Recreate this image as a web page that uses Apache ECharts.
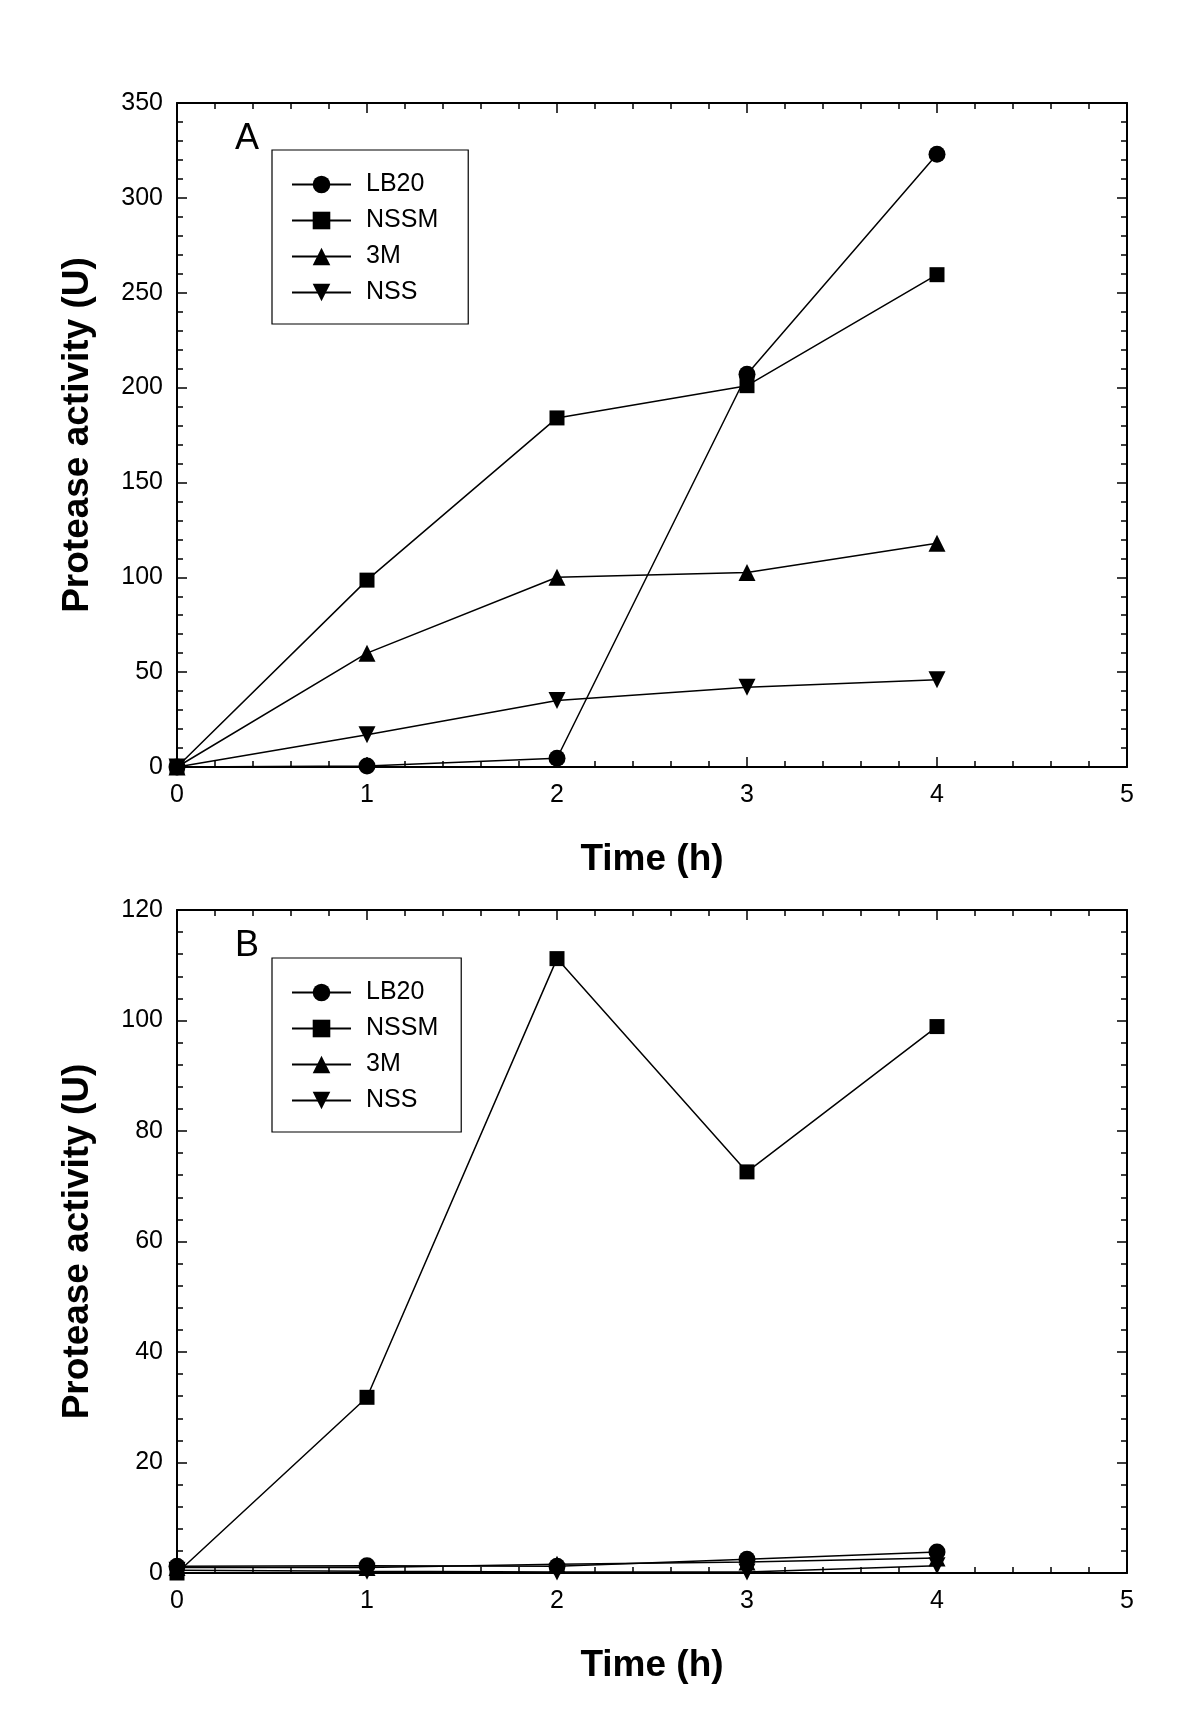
<!DOCTYPE html>
<html><head><meta charset="utf-8">
<script src="https://cdn.jsdelivr.net/npm/echarts@6/dist/echarts.min.js"></script>
<style>html,body{margin:0;padding:0;background:#fff}#c{width:1200px;height:1715px}</style>
</head><body><div id="c"></div>
<script>
const times = [0, 1, 2, 3, 4];
const seriesNames = ['LB20', 'NSSM', '3M', 'NSS'];
// Panel A
const a_LB20 = [0, 0.5, 4.6, 207, 323];
const a_NSSM = [0, 98.5, 184, 201, 259.5];
const a_3M = [0, 60, 100, 102.5, 118];
const a_NSS = [0, 17, 35, 42, 46];
// Panel B
const b_LB20 = [1.2, 1.3, 1.2, 2.5, 3.8];
const b_NSSM = [0, 31.8, 111.2, 72.6, 98.9];
const b_3M = [1.0, 1.0, 1.6, 2.0, 2.7];
const b_NSS = [0.5, 0.3, 0.2, 0.2, 1.3];
const xTicks = [0, 1, 2, 3, 4, 5];
const yTicksA = [0, 50, 100, 150, 200, 250, 300, 350];
const yTicksB = [0, 20, 40, 60, 80, 100, 120];

const FONT = '"Liberation Sans", Arial, sans-serif';
const symbols = {
  'LB20': {symbol: 'circle', symbolSize: 17, symbolRotate: 0},
  'NSSM': {symbol: 'rect', symbolSize: 15, symbolRotate: 0},
  '3M': {symbol: 'triangle', symbolSize: 17, symbolRotate: 0},
  'NSS': {symbol: 'triangle', symbolSize: 17, symbolRotate: 180}
};

function mk(name, vals, gi) {
  const s = symbols[name];
  return {
    name: name, type: 'line', xAxisIndex: gi * 2, yAxisIndex: gi * 2,
    data: times.map((t, i) => [t, vals[i]]),
    symbol: s.symbol, symbolSize: s.symbolSize, symbolRotate: s.symbolRotate,
    showAllSymbol: true,
    lineStyle: {color: '#000', width: 1.5},
    itemStyle: {color: '#000'},
    animation: false, z: 3
  };
}

function xAx(gi, main) {
  return {
    type: 'value', gridIndex: gi, min: 0, max: 5, interval: 1,
    position: main ? 'bottom' : 'top',
    name: main ? 'Time (h)' : '', nameLocation: 'middle', nameGap: 74,
    nameTextStyle: {fontFamily: FONT, fontWeight: 'bold', fontSize: 37, color: '#000'},
    axisLine: {show: true, onZero: false, lineStyle: {color: '#000', width: 2}},
    axisTick: {show: true, inside: true, length: 10, lineStyle: {color: '#000', width: 1.5}},
    minorTick: {show: true, splitNumber: 5, length: 6, lineStyle: {color: '#000', width: 1.5}},
    axisLabel: {show: main, margin: 16, fontFamily: FONT, fontSize: 25, color: '#000',
      formatter: v => xTicks.includes(v) ? String(v) : ''},
    splitLine: {show: false}
  };
}
function yAx(gi, main, max, interval, ticks) {
  return {
    type: 'value', gridIndex: gi, min: 0, max: max, interval: interval,
    position: main ? 'left' : 'right',
    name: main ? 'Protease activity (U)' : '', nameLocation: 'middle', nameGap: 81, nameRotate: 90,
    nameTextStyle: {fontFamily: FONT, fontWeight: 'bold', fontSize: 37, color: '#000'},
    axisLine: {show: true, onZero: false, lineStyle: {color: '#000', width: 2}},
    axisTick: {show: true, inside: true, length: 10, lineStyle: {color: '#000', width: 1.5}},
    minorTick: {show: true, splitNumber: 5, length: 6, lineStyle: {color: '#000', width: 1.5}},
    axisLabel: {show: main, margin: 14, fontFamily: FONT, fontSize: 25, color: '#000',
      formatter: v => ticks.includes(v) ? String(v) : ''},
    splitLine: {show: false}
  };
}
function legend(top, padRight) {
  return {
    show: true, orient: 'vertical', left: 272, top: top,
    data: seriesNames.map(n => ({name: n})),
    borderColor: '#000', borderWidth: 1.2, backgroundColor: '#fff',
    padding: [22, padRight, 19, 19], itemGap: 11, itemWidth: 59, itemHeight: 22,
    textStyle: {fontFamily: FONT, fontSize: 25, color: '#000', lineHeight: 24, padding: [0, 0, 0, 10]},
    selectedMode: false
  };
}

const chart = echarts.init(document.getElementById('c'), null, {renderer: 'canvas'});
const seriesA = [mk('LB20', a_LB20, 0), mk('NSSM', a_NSSM, 0), mk('3M', a_3M, 0), mk('NSS', a_NSS, 0)];
const seriesB = [mk('LB20', b_LB20, 1), mk('NSSM', b_NSSM, 1), mk('3M', b_3M, 1), mk('NSS', b_NSS, 1)];
chart.setOption({
  animation: false,
  backgroundColor: '#fff',
  title: [
    {text: 'A', left: 230, top: 116, textStyle: {fontFamily: FONT, fontWeight: 'normal', fontSize: 36, color: '#000'}},
    {text: 'B', left: 230, top: 923, textStyle: {fontFamily: FONT, fontWeight: 'normal', fontSize: 36, color: '#000'}}
  ],
  grid: [
    {left: 177, top: 103, width: 950, height: 664},
    {left: 177, top: 910, width: 950, height: 663}
  ],
  xAxis: [xAx(0, true), xAx(0, false), xAx(1, true), xAx(1, false)],
  yAxis: [yAx(0, true, 350, 50, yTicksA), yAx(0, false, 350, 50, yTicksA),
          yAx(1, true, 120, 20, yTicksB), yAx(1, false, 120, 20, yTicksB)],
  legend: [legend(150, 30), legend(958, 23)],
  series: seriesA.concat(seriesB)
});
</script></body></html>
